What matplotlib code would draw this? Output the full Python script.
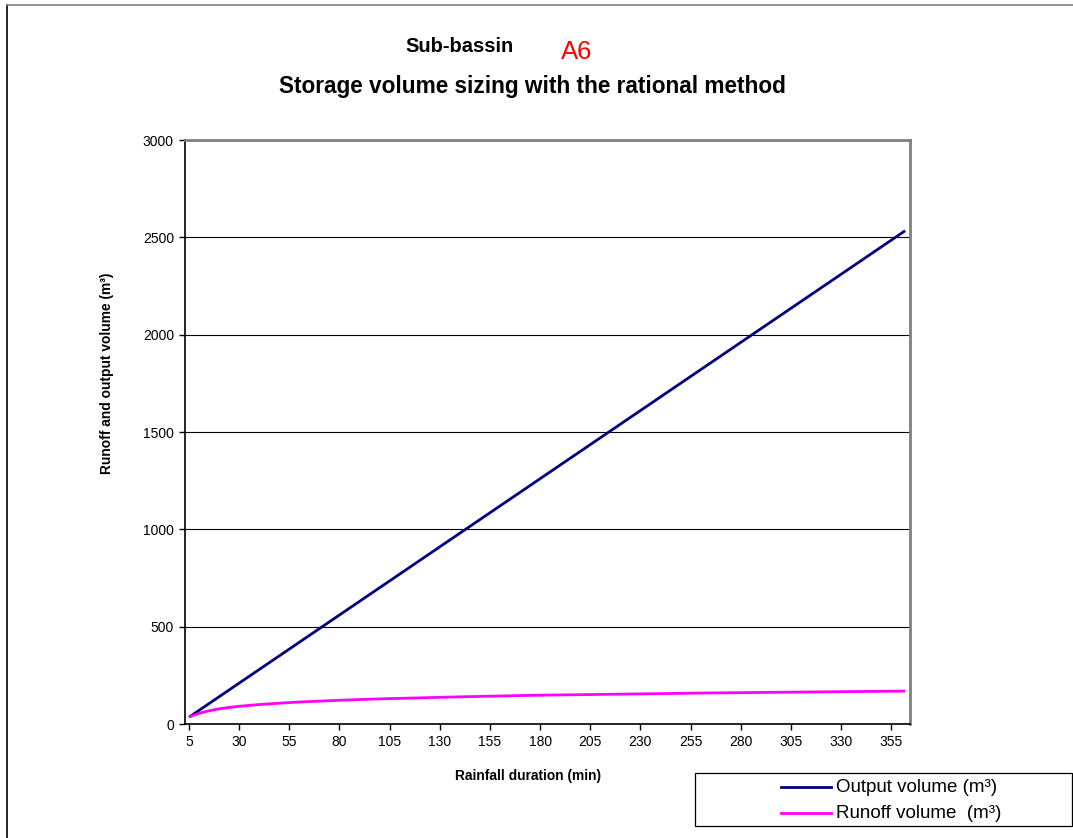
import matplotlib
matplotlib.use("Agg")
import matplotlib.pyplot as plt
from matplotlib.patches import Rectangle
from matplotlib.lines import Line2D

plt.rcParams['font.family'] = ['Liberation Sans', 'DejaVu Sans']

# Rainfall duration (min)
duration = [5, 10, 15, 20, 25, 30, 40, 50, 60, 80, 100, 130, 155, 180,
            210, 240, 260, 300, 330, 362]
# Output volume (m³): constant leakage rate
output_volume = [35, 70, 105, 140, 175, 210, 280, 350, 420, 560, 700, 910,
                 1085, 1260, 1470, 1680, 1820, 2100, 2310, 2534]
# Runoff volume (m³)
runoff_volume = [36, 55, 68, 78, 85, 91, 100, 107, 113, 122, 129, 137,
                 143, 148, 152, 156, 159, 163, 166, 169]

x_ticks = list(range(5, 356, 25))
y_ticks = [0, 500, 1000, 1500, 2000, 2500, 3000]

W, H = 1073, 838
fig = plt.figure(figsize=(W / 100, H / 100), dpi=100)

# outer chart frame
fig.add_artist(Line2D([7 / W, 7 / W], [0, 1 - 5 / H], transform=fig.transFigure,
                      color='black', lw=1.2))
fig.add_artist(Line2D([7 / W, 1], [1 - 5 / H, 1 - 5 / H], transform=fig.transFigure,
                      color='#808080', lw=1.2))

ax = fig.add_axes([185 / W, 1 - 724 / H, 725 / W, 584 / H])

ax.plot(duration, output_volume, color='#000080', lw=2, solid_capstyle='butt')
ax.plot(duration, runoff_volume, color='#FF00FF', lw=2, solid_capstyle='butt')

ax.set_xlim(3.0, 364.4)
ax.set_ylim(0, 3000)
ax.set_xticks(x_ticks)
ax.set_yticks(y_ticks)
ax.tick_params(axis='both', direction='out', length=4, width=1, labelsize=10,
               colors='black', pad=4)
ax.yaxis.grid(True, color='black', lw=0.8)
ax.set_axisbelow(True)

for side in ('left', 'bottom'):
    ax.spines[side].set_color('black')
    ax.spines[side].set_linewidth(1.2)
for side in ('right', 'top'):
    ax.spines[side].set_color('#808080')
    ax.spines[side].set_linewidth(2)

fig.text(528 / W, 1 - 776 / H, 'Rainfall duration (min)', ha='center', va='center',
         fontsize=9.9, fontweight='bold')
fig.text(107 / W, 1 - 373 / H, 'Runoff and output volume (m³)', ha='center',
         va='center', rotation=90, fontsize=9.9, fontweight='bold')

fig.text(460 / W, 1 - 47 / H, 'Sub-bassin', ha='center', va='center',
         fontsize=14.5, fontweight='bold')
fig.text(577 / W, 1 - 52 / H, 'A6', ha='center', va='center',
         fontsize=18.5, color='red')
fig.text(532 / W, 1 - 86 / H, 'Storage volume sizing with the rational method',
         ha='center', va='center', fontsize=16.3, fontweight='bold')

# legend box
fig.add_artist(Rectangle((695 / W, 1 - 826 / H), (1072 - 695) / W, 53 / H,
                         transform=fig.transFigure, fill=False, edgecolor='black',
                         lw=0.9))
legend_rows = [('Output volume (m³)', '#000080', 787),
               ('Runoff volume  (m³)', '#FF00FF', 813)]
for label, color, yp in legend_rows:
    fig.add_artist(Line2D([781 / W, 831 / W], [1 - yp / H, 1 - yp / H],
                          transform=fig.transFigure, color=color, lw=2))
    fig.text(836 / W, 1 - yp / H, label, ha='left', va='center', fontsize=13.5)

fig.savefig('out.png', dpi=100)
